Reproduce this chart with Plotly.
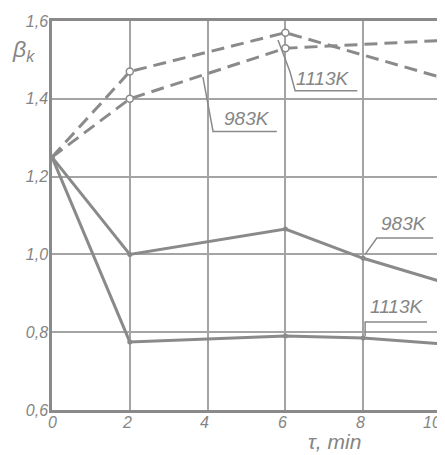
import plotly.graph_objects as go

# ---- data ----
time_dashed = [0, 2, 6, 10]
beta_dashed_1113 = [1.25, 1.47, 1.57, 1.455]
beta_dashed_983 = [1.25, 1.40, 1.53, 1.55]

time_solid_983 = [0, 2, 6, 8, 10]
beta_solid_983 = [1.25, 1.00, 1.065, 0.99, 0.93]

time_solid_1113 = [0, 2, 6, 8, 10]
beta_solid_1113 = [1.25, 0.775, 0.79, 0.785, 0.77]

x_ticks = [0, 2, 4, 6, 8, 10]
x_tick_labels = ["0", "2", "4", "6", "8", "10"]
y_ticks = [0.6, 0.8, 1.0, 1.2, 1.4, 1.6]

GRAY = "#8a8a8a"
GRID = "#a4a4a4"
TXT = "#858585"
FONT = "Liberation Sans"

fig = go.Figure()

for xs, ys in [(time_dashed, beta_dashed_1113), (time_dashed, beta_dashed_983)]:
    fig.add_trace(go.Scatter(
        x=xs, y=ys, mode="lines",
        line=dict(color=GRAY, width=3, dash="13px,7px"),
        showlegend=False, hoverinfo="skip", cliponaxis=False))
    fig.add_trace(go.Scatter(
        x=xs[1:], y=ys[1:], mode="markers",
        marker=dict(symbol="circle", size=7, color="white",
                    line=dict(color=GRAY, width=1.5)),
        showlegend=False, hoverinfo="skip", cliponaxis=False))

for xs, ys in [(time_solid_983, beta_solid_983), (time_solid_1113, beta_solid_1113)]:
    fig.add_trace(go.Scatter(
        x=xs, y=ys, mode="lines+markers",
        line=dict(color=GRAY, width=3),
        marker=dict(size=5, color=GRAY),
        showlegend=False, hoverinfo="skip", cliponaxis=False))

# curve labels: (text, text x, text y, leader path points)
labels = [
    ("1113K", 6.95, 1.452, [(5.81, 1.551), (6.12, 1.469), (6.25, 1.421), (7.85, 1.421)]),
    ("983K", 5.0, 1.350, [(3.88, 1.456), (4.14, 1.316), (5.78, 1.316)]),
    ("983K", 9.05, 1.080, [(8.05, 1.0), (8.35, 1.042), (9.8, 1.042)]),
    ("1113K", 8.85, 0.866, [(8.05, 0.79), (8.05, 0.826), (9.64, 0.826)]),
]
for text, tx, ty, pts in labels:
    fig.add_annotation(x=tx, y=ty, xref="x", yref="y", text=text,
                       showarrow=False, xanchor="center", yanchor="middle",
                       font=dict(family=FONT, size=19, color=TXT, style="italic"))
    path = "M " + " L ".join(f"{px},{py}" for px, py in pts)
    fig.add_shape(type="path", path=path, xref="x", yref="y",
                  line=dict(color=GRAY, width=1.5))

# x tick labels (the last one is right-aligned so it stays inside the window)
for i, (tv, tl) in enumerate(zip(x_ticks, x_tick_labels)):
    last = i == len(x_ticks) - 1
    fig.add_annotation(x=tv, y=0, xref="x", yref="paper", text=tl,
                       showarrow=False,
                       xanchor="right" if last else "center", yanchor="middle",
                       xshift=2 if last else (0 if i == 0 else -3), yshift=-12,
                       font=dict(family=FONT, size=16, color=TXT, style="italic"))

fig.add_annotation(x=-0.072, y=0.925, xref="paper", yref="paper",
                   xanchor="center", yanchor="middle",
                   text="β<sub>k</sub>", showarrow=False,
                   font=dict(family=FONT, size=23, color=TXT, style="italic"))
fig.add_annotation(x=0.725, y=-0.082, xref="paper", yref="paper",
                   xanchor="center", yanchor="middle",
                   text="τ, min", showarrow=False,
                   font=dict(family=FONT, size=21, color=TXT, style="italic"))

fig.update_xaxes(range=[0, 10], tickvals=x_ticks, showticklabels=False,
                 showgrid=True, gridcolor=GRID, gridwidth=1.5,
                 showline=True, mirror=True, linecolor=GRAY, linewidth=2.5,
                 zeroline=False, ticks="", automargin=False)
fig.update_yaxes(range=[0.6, 1.6], tickvals=y_ticks, tickformat=".1f",
                 showgrid=True, gridcolor=GRID, gridwidth=1.5,
                 showline=True, mirror=True, linecolor=GRAY, linewidth=2.5,
                 zeroline=False, ticks="", ticklen=0, automargin=False,
                 ticklabeloverflow="allow", ticklabelstandoff=-2,
                 tickfont=dict(family=FONT, size=16, color=TXT, style="italic"))

# the page body adds an 8px offset, so the margins are shifted accordingly
fig.update_layout(width=445, height=455,
                  margin=dict(l=44, r=12, t=13, b=53),
                  paper_bgcolor="white", plot_bgcolor="white",
                  separators=", ", showlegend=False)

fig.write_html("out.html")
